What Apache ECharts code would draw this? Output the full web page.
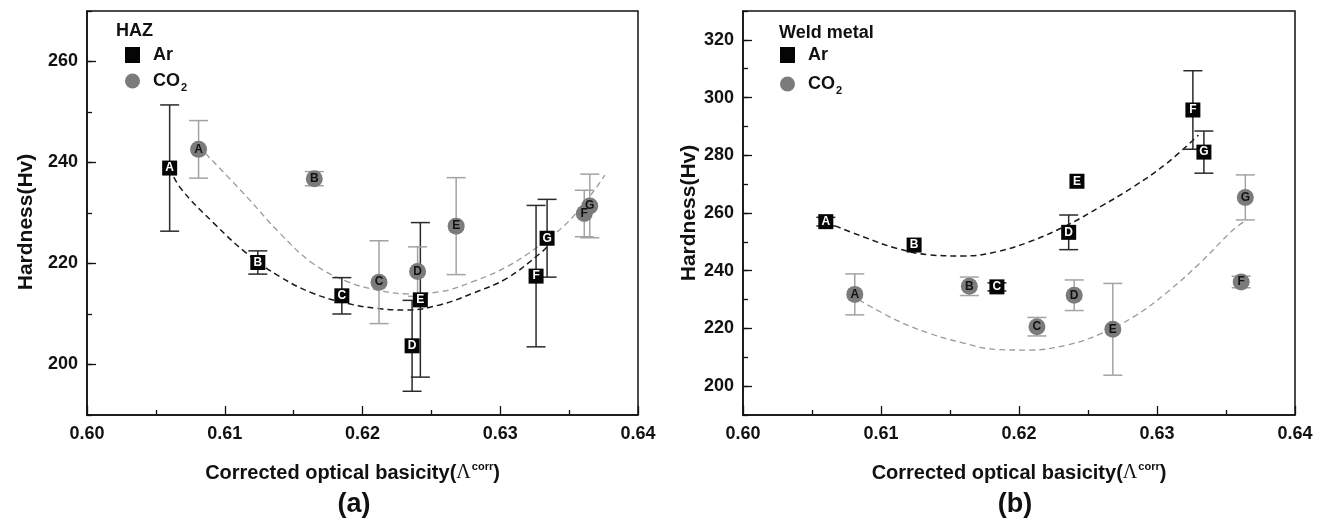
<!DOCTYPE html>
<html>
<head>
<meta charset="utf-8">
<script src="https://cdn.jsdelivr.net/npm/echarts@6/dist/echarts.min.js"></script>
<style>html,body{margin:0;padding:0;background:#fff}#c{width:1329px;height:519px}</style>
</head>
<body>
<div id="c"></div>
<script>
// ---------- data ----------
const pointLabels = ['A', 'B', 'C', 'D', 'E', 'F', 'G'];
const xTicks = [0.60, 0.61, 0.62, 0.63, 0.64];
const hazYTicks = [200, 220, 240, 260];
const weldYTicks = [200, 220, 240, 260, 280, 300, 320];

// (a) HAZ
const hazArX = [0.6060, 0.6124, 0.6185, 0.6236, 0.6242, 0.6326, 0.6334];
const hazArY = [238.9, 220.2, 213.6, 203.7, 212.8, 217.5, 225.0];
const hazArErr = [12.5, 2.3, 3.6, 9.0, 15.3, 14.0, 7.7];
const hazCO2X = [0.6081, 0.6165, 0.6212, 0.6240, 0.6268, 0.6361, 0.6365];
const hazCO2Y = [242.6, 236.8, 216.3, 218.4, 227.4, 229.9, 231.4];
const hazCO2Err = [5.7, 1.4, 8.2, 4.9, 9.6, 4.6, 6.3];
const hazArFitX = [0.6060, 0.6068, 0.6092, 0.6116, 0.6140, 0.6164, 0.6189, 0.6210, 0.6232, 0.6256, 0.6280, 0.6305, 0.6329, 0.6334];
const hazArFitY = [238.9, 234.9, 228.0, 222.0, 217.4, 214.1, 212.1, 211.1, 210.8, 211.8, 214.1, 217.1, 222.0, 223.3];
const hazCO2FitX = [0.6086, 0.6116, 0.6140, 0.6164, 0.6189, 0.6210, 0.6232, 0.6256, 0.6280, 0.6305, 0.6329, 0.6353, 0.6376];
const hazCO2FitY = [241.8, 233.2, 226.0, 220.0, 216.4, 214.8, 214.0, 214.4, 216.4, 219.4, 223.7, 229.3, 237.5];

// (b) Weld metal
const weldArX = [0.6060, 0.6124, 0.6184, 0.6236, 0.6242, 0.6326, 0.6334];
const weldArY = [257.0, 248.9, 234.4, 253.3, 271.0, 295.7, 281.1];
const weldArErr = [1.5, 0, 1.4, 6.0, 0, 13.6, 7.3];
const weldCO2X = [0.6081, 0.6164, 0.6213, 0.6240, 0.6268, 0.6361, 0.6364];
const weldCO2Y = [231.8, 234.6, 220.6, 231.5, 219.7, 236.1, 265.4];
const weldCO2Err = [7.1, 3.2, 3.2, 5.3, 15.9, 2.0, 7.8];
const weldArFitX = [0.6060, 0.6087, 0.6111, 0.6135, 0.6160, 0.6184, 0.6208, 0.6235, 0.6259, 0.6283, 0.6307, 0.6330];
const weldArFitY = [256.8, 251.8, 247.8, 245.5, 245.1, 246.6, 250.1, 255.8, 262.2, 269.1, 277.2, 287.0];
const weldCO2FitX = [0.6084, 0.6111, 0.6135, 0.6160, 0.6184, 0.6208, 0.6235, 0.6259, 0.6283, 0.6307, 0.6331, 0.6355, 0.6365];
const weldCO2FitY = [229.9, 222.9, 218.3, 214.9, 212.7, 212.5, 214.3, 218.1, 224.0, 232.4, 242.6, 254.1, 257.6];

// ---------- styling ----------
const FONT = '"Liberation Sans", Arial, Helvetica, sans-serif';
const AR_FILL = '#050505';
const CO2_FILL = '#7b7b7b';
const AR_ERR = '#2a2a2a';
const CO2_ERR = '#a3a3a3';

function pts(xs, ys) {
  return xs.map((x, i) => ({ value: [x, ys[i]], name: pointLabels[i] }));
}
function errData(xs, ys, es) {
  const out = [];
  xs.forEach((x, i) => { if (es[i] > 0) out.push([x, ys[i] - es[i], ys[i] + es[i]]); });
  return out;
}
function line(xs, ys) { return xs.map((x, i) => [x, ys[i]]); }

function errSeries(name, idx, data, color) {
  return {
    type: 'custom', name: name, xAxisIndex: idx, yAxisIndex: idx * 2, z: 3,
    data: data, silent: true,
    renderItem: function (params, api) {
      const x = api.value(0);
      const top = api.coord([x, api.value(2)]);
      const bot = api.coord([x, api.value(1)]);
      const w = 9.5;
      const st = { stroke: color, lineWidth: 1.5 };
      return {
        type: 'group', children: [
          { type: 'line', shape: { x1: top[0], y1: top[1], x2: bot[0], y2: bot[1] }, style: st },
          { type: 'line', shape: { x1: top[0] - w, y1: top[1], x2: top[0] + w, y2: top[1] }, style: st },
          { type: 'line', shape: { x1: bot[0] - w, y1: bot[1], x2: bot[0] + w, y2: bot[1] }, style: st }
        ]
      };
    }
  };
}
function scatter(name, idx, data, isAr) {
  return {
    type: 'scatter', name: name, xAxisIndex: idx, yAxisIndex: idx * 2, z: 5,
    data: data,
    symbol: isAr ? 'rect' : 'circle',
    symbolSize: isAr ? 15 : 17,
    itemStyle: { color: isAr ? AR_FILL : CO2_FILL, opacity: 1 },
    label: {
      show: true, position: 'inside', formatter: '{b}',
      color: isAr ? '#ffffff' : '#111111', fontSize: 12, fontWeight: 'bold', fontFamily: FONT
    }
  };
}
function fit(name, idx, data, isAr) {
  return {
    type: 'line', name: name, xAxisIndex: idx, yAxisIndex: idx * 2, z: 2,
    data: data, smooth: 0.4, symbol: 'none', silent: true,
    lineStyle: isAr ? { color: '#1a1a1a', width: 1.5, type: [6, 4] } : { color: '#9a9a9a', width: 1.3, type: [6, 4] }
  };
}

function xAxis(idx, xNamePad) {
  return {
    type: 'value', gridIndex: idx, min: 0.60, max: 0.64, interval: 0.01,
    name: '{n|Corrected optical basicity(}{l|Λ}{s|corr}{n|)}',
    nameLocation: 'middle', nameGap: 46,
    nameTextStyle: {
      padding: xNamePad,
      rich: {
        n: { fontSize: 20, fontWeight: 'bold', fontFamily: FONT, color: '#111', lineHeight: 24 },
        l: { fontSize: 20, fontFamily: '"Liberation Serif", "Times New Roman", serif', color: '#111', lineHeight: 24 },
        s: { fontSize: 11, fontWeight: 'bold', fontFamily: FONT, color: '#111', verticalAlign: 'top', lineHeight: 12, padding: [0, 0, 12, 1] }
      }
    },
    axisLine: { show: true, onZero: false, lineStyle: { color: '#111', width: 1.5 } },
    axisTick: { show: true, inside: true, length: 9, lineStyle: { color: '#111', width: 1.3 } },
    minorTick: { show: true, splitNumber: 2, length: 5, lineStyle: { color: '#111', width: 1.3 } },
    splitLine: { show: false },
    axisLabel: {
      show: true, margin: 10, fontSize: 18, fontWeight: 'bold', fontFamily: FONT, color: '#111',
      formatter: v => v.toFixed(2),
      customValues: xTicks
    }
  };
}
function yAxes(idx, min, max, ticks, nameGap, namePad) {
  return [{
    type: 'value', gridIndex: idx, position: 'left', min: min, max: max, interval: 10,
    name: 'Hardness(Hv)', nameLocation: 'middle', nameGap: nameGap, nameRotate: 90,
    nameTextStyle: { fontSize: 21, fontWeight: 'bold', fontFamily: FONT, color: '#111', padding: namePad },
    axisLine: { show: true, onZero: false, lineStyle: { color: '#111', width: 1.5 } },
    axisTick: { show: true, inside: true, length: 5, lineStyle: { color: '#111', width: 1.3 } },
    splitLine: { show: false },
    axisLabel: {
      show: true, margin: 9, fontSize: 18, fontWeight: 'bold', fontFamily: FONT, color: '#111',
      customValues: ticks
    }
  }, {
    type: 'value', gridIndex: idx, position: 'left', min: min, max: max, interval: 10,
    axisLine: { show: false },
    axisTick: { show: true, inside: true, length: 9, customValues: ticks, lineStyle: { color: '#111', width: 1.3 } },
    axisLabel: { show: false },
    splitLine: { show: false }
  }];
}

function legend(left, top, gap) {
  return {
    left: left, top: top, orient: 'vertical', itemWidth: 15, itemHeight: 16, itemGap: gap,
    selectedMode: false,
    data: [{ name: 'Ar', icon: 'rect' }, { name: 'CO2', icon: 'circle' }],
    formatter: n => n === 'CO2' ? '{b|CO}{u|2}' : '{b|' + n + '}',
    textStyle: {
      padding: [0, 0, 0, 8],
      rich: {
        b: { fontSize: 18, fontWeight: 'bold', fontFamily: FONT, color: '#111' },
        u: { fontSize: 11, fontWeight: 'bold', fontFamily: FONT, color: '#111', padding: [14, 0, 0, 1] }
      }
    }
  };
}

const chart = echarts.init(document.getElementById('c'), null, { renderer: 'canvas' });
chart.setOption({
  backgroundColor: '#fff',
  animation: false,
  title: [
    { text: 'HAZ', left: 116, top: 22, padding: 0, textStyle: { fontSize: 18, fontWeight: 'bold', fontFamily: FONT, color: '#111' } },
    { text: 'Weld metal', left: 779, top: 24, padding: 0, textStyle: { fontSize: 18, fontWeight: 'bold', fontFamily: FONT, color: '#111' } }
  ],
  legend: [legend(120, 41, 8), legend(775, 41, 11)],
  graphic: [
    { type: 'text', x: 354, y: 505, style: { text: '(a)', fill: '#111', font: 'bold 27px ' + FONT, align: 'center', verticalAlign: 'middle' } },
    { type: 'text', x: 1015, y: 505, style: { text: '(b)', fill: '#111', font: 'bold 27px ' + FONT, align: 'center', verticalAlign: 'middle' } }
  ],
  grid: [
    { left: 87, top: 11, width: 551, height: 404, show: true, borderColor: '#111', borderWidth: 1.5, containLabel: false },
    { left: 743, top: 11, width: 552, height: 404, show: true, borderColor: '#111', borderWidth: 1.5, containLabel: false }
  ],
  xAxis: [xAxis(0, [0, 20, 0, 0]), xAxis(1, [0, 0, 0, 0])],
  yAxis: yAxes(0, 190, 270, hazYTicks, 50, [0, 18, 0, 0]).concat(yAxes(1, 190, 330, weldYTicks, 42, [0, 0, 0, 0])),
  series: [
    fit('Ar fit', 0, line(hazArFitX, hazArFitY), true),
    fit('CO2 fit', 0, line(hazCO2FitX, hazCO2FitY), false),
    errSeries('Ar error', 0, errData(hazArX, hazArY, hazArErr), AR_ERR),
    errSeries('CO2 error', 0, errData(hazCO2X, hazCO2Y, hazCO2Err), CO2_ERR),
    scatter('Ar', 0, pts(hazArX, hazArY), true),
    scatter('CO2', 0, pts(hazCO2X, hazCO2Y), false),
    fit('Ar fit', 1, line(weldArFitX, weldArFitY), true),
    fit('CO2 fit', 1, line(weldCO2FitX, weldCO2FitY), false),
    errSeries('Ar error', 1, errData(weldArX, weldArY, weldArErr), AR_ERR),
    errSeries('CO2 error', 1, errData(weldCO2X, weldCO2Y, weldCO2Err), CO2_ERR),
    scatter('Ar', 1, pts(weldArX, weldArY), true),
    scatter('CO2', 1, pts(weldCO2X, weldCO2Y), false)
  ]
});
</script>
</body>
</html>
